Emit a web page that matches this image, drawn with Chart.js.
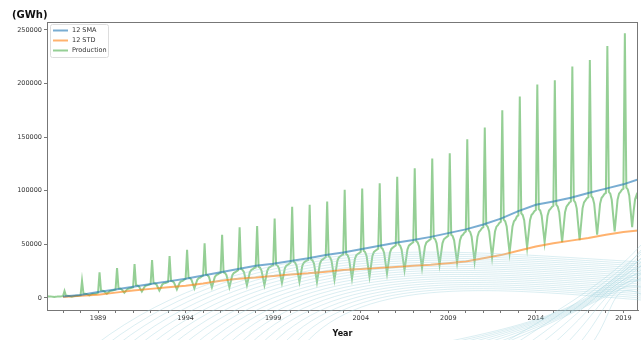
<!DOCTYPE html>
<html>
<head>
<meta charset="utf-8">
<script src="https://cdn.jsdelivr.net/npm/chart.js"></script>
<style>
  html, body { margin: 0; padding: 0; background: #fff; }
  #wrap { width: 641px; height: 340px; }
</style>
</head>
<body>
<div id="wrap"><canvas id="chart" width="641" height="340"></canvas></div>
<script>
const FONT = "'DejaVu Sans', sans-serif";

const seriesLabels = ['12 SMA', '12 STD', 'Production'];

// monthly production (GWh), first value is Feb 1986
const startYear = 1986;
const startMonth = 2;
const production = [
  2000, 1500, 1500, 1300, 1200, 1000, 1200, 1300, 1500, 1500, 1600,                     // 1986
  1800, 6500, 2000, 2000, 1800, 1500, 1200, 1500, 1800, 2000, 2000, 2200,               // 1987
  2500, 16000, 4000, 3900, 3700, 3100, 2500, 3100, 3700, 3900, 4000, 4200,              // 1988
  5000, 24000, 7000, 6800, 6400, 5200, 4000, 5200, 6400, 6800, 7000, 7500,              // 1989
  8000, 28000, 9000, 8800, 8200, 6600, 5000, 6600, 8200, 8800, 9000, 9500,              // 1990
  10000, 31700, 12000, 11700, 10800, 8400, 6000, 8400, 10800, 11700, 12000, 12500,      // 1991
  13000, 35400, 14000, 13600, 12600, 9800, 7000, 9800, 12600, 13600, 14000, 14500,      // 1992
  15000, 39000, 16000, 15600, 14400, 11200, 8000, 11200, 14400, 15600, 16000, 17000,    // 1993
  18000, 45000, 19000, 18500, 17000, 13000, 9000, 13000, 17000, 18500, 19000, 20000,    // 1994
  21000, 51000, 22000, 21400, 19600, 14800, 10000, 14800, 19600, 21400, 22000, 23000,   // 1995
  23500, 59000, 24000, 23300, 21200, 15600, 10000, 15600, 21200, 23300, 24000, 25000,   // 1996
  26000, 66000, 27000, 26200, 24000, 18000, 12000, 18000, 24000, 26200, 27000, 28000,   // 1997
  28500, 67000, 29000, 28200, 25600, 18800, 12000, 18800, 25600, 28200, 29000, 30000,   // 1998
  30500, 74000, 31000, 30200, 27600, 20800, 14000, 20800, 27600, 30200, 31000, 32000,   // 1999
  33000, 85000, 34000, 33000, 30200, 22600, 15000, 22600, 30200, 33000, 34000, 35000,   // 2000
  35500, 87000, 36000, 35000, 31800, 23400, 15000, 23400, 31800, 35000, 36000, 37000,   // 2001
  38000, 90000, 39000, 37900, 34600, 25800, 17000, 25800, 34600, 37900, 39000, 40000,   // 2002
  40500, 101000, 41000, 39900, 36400, 27200, 18000, 27200, 36400, 39900, 41000, 42000,  // 2003
  43000, 102000, 44000, 42800, 39200, 29600, 20000, 29600, 39200, 42800, 44000, 45000,  // 2004
  46000, 107000, 47000, 45800, 42200, 32600, 23000, 32600, 42200, 45800, 47000, 48000,  // 2005
  49000, 113000, 50000, 48800, 45200, 35600, 26000, 35600, 45200, 48800, 50000, 51000,  // 2006
  52000, 121000, 53000, 51800, 48000, 38000, 28000, 38000, 48000, 51800, 53000, 54000,  // 2007
  55000, 130000, 56000, 54800, 51000, 41000, 31000, 41000, 51000, 54800, 56000, 57000,  // 2008
  58000, 135000, 59000, 57700, 53800, 43400, 33000, 43400, 53800, 57700, 59000, 61000,  // 2009
  62000, 148000, 63000, 61600, 57200, 45600, 34000, 45600, 57200, 61600, 63000, 65000,  // 2010
  66000, 159000, 68000, 66500, 62000, 50000, 38000, 50000, 62000, 66500, 68000, 70000,  // 2011
  71000, 175000, 73000, 71500, 66800, 54400, 42000, 54400, 66800, 71500, 73000, 76000,  // 2012
  77000, 188000, 79000, 77400, 72600, 59800, 47000, 59800, 72600, 77400, 79000, 81000,  // 2013
  82000, 199000, 83000, 81500, 76800, 64400, 52000, 64400, 76800, 81500, 83000, 85000,  // 2014
  86000, 203000, 87000, 85200, 80000, 66000, 52000, 66000, 80000, 85200, 87000, 89000,  // 2015
  90000, 216000, 91000, 89200, 83600, 68800, 54000, 68800, 83600, 89200, 91000, 93000,  // 2016
  94000, 222000, 95000, 93200, 87800, 73400, 59000, 73400, 87800, 93200, 95000, 97000,  // 2017
  98000, 235000, 99000, 97200, 91600, 76800, 62000, 76800, 91600, 97200, 99000, 101000, // 2018
  102000, 247000, 103000, 101200, 95600, 80800, 66000, 80800, 92000, 96000, 92000       // 2019
];

// rolling 12-month statistics, read at the start of each year
const statYears = [1987, 1988, 1989, 1990, 1991, 1992, 1993, 1994, 1995, 1996, 1997, 1998,
  1999, 2000, 2001, 2002, 2003, 2004, 2005, 2006, 2007, 2008, 2009, 2010, 2011, 2012,
  2013, 2014, 2015, 2016, 2017, 2018, 2019, 2019.83];
const sma12 = [1500, 2800, 5500, 8000, 10500, 13000, 15500, 18000, 21000, 24000, 27000, 30000,
  32000, 34500, 37000, 40000, 42500, 45500, 48500, 51500, 54000, 57000, 60500, 64000, 68500, 74000,
  81000, 87000, 90000, 93500, 98000, 102000, 106000, 110500];
const std12 = [1000, 2000, 3000, 5000, 7000, 8500, 10000, 11500, 13500, 16000, 18000, 19000,
  20500, 22000, 23000, 24500, 26000, 27000, 28000, 29000, 30000, 31000, 32500, 34000, 37000, 40000,
  44000, 48000, 51000, 53500, 56000, 59000, 61500, 63000];

const xMajorLabels = ['1989', '1994', '1999', '2004', '2009', '2014', '2019'];
const xMinorYears = [1987, 1988, 1989, 1990, 1991, 1992, 1993, 1994, 1995, 1996, 1997, 1998, 1999,
  2000, 2001, 2002, 2003, 2004, 2005, 2006, 2007, 2008, 2009, 2010, 2011, 2012, 2013, 2014, 2015,
  2016, 2017, 2018, 2019];
const yTickValues = [0, 50000, 100000, 150000, 200000, 250000];

const productionPts = production.map((v, i) => ({ x: startYear + (startMonth - 1 + i) / 12, y: v }));
const smaPts = statYears.map((x, i) => ({ x, y: sma12[i] }));
const stdPts = statYears.map((x, i) => ({ x, y: std12[i] }));

const colors = ['rgba(31,119,180,0.6)', 'rgba(255,127,14,0.6)', 'rgba(44,160,44,0.5)'];

// frame, axis unit label and legend box like the matplotlib original
const decorations = {
  id: 'decorations',
  afterDraw(chart) {
    const { ctx, chartArea: a } = chart;
    ctx.save();
    ctx.strokeStyle = '#777';
    ctx.lineWidth = 1;
    ctx.strokeRect(a.left + 0.5, a.top + 0.5, a.right - a.left - 1, a.bottom - a.top);

    ctx.fillStyle = '#111';
    ctx.font = `bold 10px ${FONT}`;
    ctx.textBaseline = 'middle';
    ctx.fillText('(GWh)', 12, 15);

    // legend
    ctx.fillStyle = 'rgba(255,255,255,0.85)';
    ctx.strokeStyle = '#ddd';
    ctx.beginPath();
    ctx.roundRect(50.5, 24.5, 58, 33, 2);
    ctx.fill();
    ctx.stroke();
    ctx.font = `6.5px ${FONT}`;
    seriesLabels.forEach((label, i) => {
      const y = 30.5 + i * 10;
      ctx.strokeStyle = colors[i];
      ctx.lineWidth = 2;
      ctx.beginPath();
      ctx.moveTo(53, y);
      ctx.lineTo(68, y);
      ctx.stroke();
      ctx.fillStyle = '#333';
      ctx.fillText(label, 72, y);
    });
    ctx.restore();
  }
};

// light wave mesh over the lower part of the picture
const waves = {
  id: 'waves',
  afterDraw(chart) {
    const { ctx } = chart;
    ctx.save();
    ctx.strokeStyle = 'rgba(160,210,222,0.55)';
    ctx.lineWidth = 0.7;
    // dome sweeping from bottom left towards the right edge
    for (let i = 0; i < 20; i++) {
      ctx.beginPath();
      ctx.moveTo(95 + 11 * i, 345);
      ctx.bezierCurveTo(250 + 6 * i, 228 + 2.5 * i, 440 + 3 * i, 250 + 2 * i, 641, 262 + 2 * i);
      ctx.stroke();
    }
    // lines climbing from the bottom right
    for (let i = 0; i < 8; i++) {
      ctx.beginPath();
      ctx.moveTo(500 + 13 * i, 345);
      ctx.bezierCurveTo(560 + 8 * i, 310, 610, 280, 641, 245 + 7 * i);
      ctx.stroke();
    }
    // lines falling from the right edge to the bottom
    for (let i = 0; i < 8; i++) {
      ctx.beginPath();
      ctx.moveTo(641, 250 + 4 * i);
      ctx.bezierCurveTo(600, 300, 560, 320, 430 + 10 * i, 345);
      ctx.stroke();
    }
    ctx.restore();
  }
};

new Chart(document.getElementById('chart'), {
  type: 'line',
  data: {
    datasets: [
      { label: seriesLabels[0], data: smaPts, borderColor: colors[0], backgroundColor: colors[0], borderWidth: 2 },
      { label: seriesLabels[1], data: stdPts, borderColor: colors[1], backgroundColor: colors[1], borderWidth: 2 },
      { label: seriesLabels[2], data: productionPts, borderColor: colors[2], backgroundColor: colors[2], borderWidth: 2 }
    ]
  },
  options: {
    responsive: false,
    animation: false,
    parsing: false,
    elements: { point: { radius: 0 }, line: { tension: 0 } },
    layout: { padding: { top: 22, right: 3, left: 0, bottom: 0 } },
    plugins: { legend: { display: false }, tooltip: { enabled: false } },
    scales: {
      x: {
        type: 'linear',
        min: productionPts[0].x,
        max: productionPts[productionPts.length - 1].x,
        afterBuildTicks: s => { s.ticks = xMinorYears.map(v => ({ value: v })); },
        afterFit: s => { s.height = 30; },
        ticks: {
          autoSkip: false, maxRotation: 0, padding: 1, color: '#333',
          font: { family: FONT, size: 6.5 },
          callback: v => xMajorLabels.includes(String(v)) ? String(v) : ''
        },
        grid: { drawOnChartArea: false, tickLength: 3, color: '#777' },
        border: { color: '#777' },
        title: { display: true, text: 'Year', color: '#111', font: { family: FONT, size: 8, weight: 'bold' }, padding: { top: 0, bottom: 1 } }
      },
      y: {
        min: -11200,
        max: 257400,
        afterBuildTicks: s => { s.ticks = yTickValues.map(v => ({ value: v })); },
        afterFit: s => { s.width = 47; },
        ticks: { padding: 2, color: '#333', font: { family: FONT, size: 6.5 }, callback: v => String(v) },
        grid: { drawOnChartArea: false, tickLength: 3, color: '#777' },
        border: { color: '#777' }
      }
    }
  },
  plugins: [decorations, waves]
});
</script>
</body>
</html>
